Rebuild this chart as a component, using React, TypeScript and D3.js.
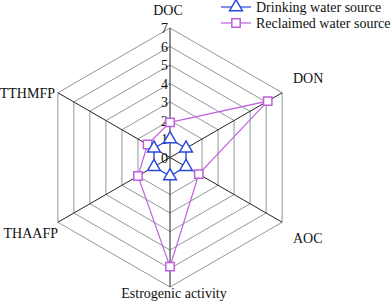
import React, { useEffect, useRef } from "react";
import * as d3 from "d3";

const axes = ["DOC", "DON", "AOC", "Estrogenic activity", "THAAFP", "TTHMFP"];
const drinking = [1, 1, 1, 1, 1, 1];
const reclaimed = [1.9, 6.1, 1.8, 5.9, 2.0, 1.4];
const ticks = [0, 1, 2, 3, 4, 5, 6, 7];

const App: React.FC = () => {
  const svgRef = useRef<SVGSVGElement | null>(null);

  useEffect(() => {
    if (!svgRef.current) return;
    const svg = d3.select(svgRef.current);
    svg.selectAll("*").remove();

    const cx = 170;
    const cy = 157.5;
    const r = d3.scaleLinear().domain([0, 7]).range([0, 129.5]);
    const angle = (i: number) => (i * Math.PI * 2) / axes.length;
    const pt = (i: number, v: number): [number, number] => [
      cx + r(v) * Math.sin(angle(i)),
      cy - r(v) * Math.cos(angle(i)),
    ];
    const font = "Liberation Serif, DejaVu Serif, serif";

    // rings
    ticks.slice(1).forEach((t) => {
      svg
        .append("polygon")
        .attr("points", axes.map((_, i) => pt(i, t).join(",")).join(" "))
        .attr("fill", "none")
        .attr("stroke", "#8c9a9a")
        .attr("stroke-width", 1);
    });

    // spokes
    axes.forEach((_, i) => {
      const [x, y] = pt(i, 7);
      svg
        .append("line")
        .attr("x1", cx)
        .attr("y1", cy)
        .attr("x2", x)
        .attr("y2", y)
        .attr("stroke", "#222")
        .attr("stroke-width", 1);
    });

    // tick labels
    svg
      .selectAll(".tick")
      .data(ticks)
      .enter()
      .append("text")
      .attr("x", cx - 2)
      .attr("y", (d) => cy - r(d) + 5)
      .attr("text-anchor", "end")
      .style("font-family", font)
      .style("font-size", "14px")
      .attr("fill", "#111")
      .text((d) => d);

    // axis labels
    const labelPos: { x: number; y: number; anchor: string }[] = [
      { x: 168, y: 15, anchor: "middle" },
      { x: 293, y: 83, anchor: "start" },
      { x: 293, y: 243, anchor: "start" },
      { x: 174, y: 298, anchor: "middle" },
      { x: 58, y: 238, anchor: "end" },
      { x: 55, y: 98, anchor: "end" },
    ];
    axes.forEach((a, i) => {
      svg
        .append("text")
        .attr("x", labelPos[i].x)
        .attr("y", labelPos[i].y)
        .attr("text-anchor", labelPos[i].anchor)
        .style("font-family", font)
        .style("font-size", "14px")
        .attr("fill", "#111")
        .text(a);
    });

    const line = d3
      .line<number>()
      .x((d, i) => pt(i, d)[0])
      .y((d, i) => pt(i, d)[1])
      .curve(d3.curveLinearClosed);

    const tri = d3.symbol().type(d3.symbolTriangle).size(70);
    const sq = d3.symbol().type(d3.symbolSquare).size(70);

    const series = [
      { values: reclaimed, color: "#c05ee0", sym: sq },
      { values: drinking, color: "#2a48e0", sym: tri },
    ];

    series.forEach((s) => {
      svg
        .append("path")
        .attr("d", line(s.values)!)
        .attr("fill", "none")
        .attr("stroke", s.color)
        .attr("stroke-width", 1.2);
      s.values.forEach((v, i) => {
        const [x, y] = pt(i, v);
        svg
          .append("path")
          .attr("d", s.sym()!)
          .attr("transform", `translate(${x},${y})`)
          .attr("fill", "white")
          .attr("stroke", s.color)
          .attr("stroke-width", 1.5);
      });
    });

    // legend
    const legend = [
      { name: "Drinking water source", color: "#2a48e0", sym: tri, y: 7 },
      { name: "Reclaimed water source", color: "#c05ee0", sym: sq, y: 23 },
    ];
    legend.forEach((l) => {
      svg
        .append("line")
        .attr("x1", 221)
        .attr("x2", 251)
        .attr("y1", l.y)
        .attr("y2", l.y)
        .attr("stroke", l.color)
        .attr("stroke-width", 1.2);
      svg
        .append("path")
        .attr("d", l.sym()!)
        .attr("transform", `translate(236,${l.y})`)
        .attr("fill", "white")
        .attr("stroke", l.color)
        .attr("stroke-width", 1.5);
      svg
        .append("text")
        .attr("x", 256)
        .attr("y", l.y + 5)
        .style("font-family", font)
        .style("font-size", "14px")
        .attr("fill", "#111")
        .text(l.name);
    });
  }, []);

  return (
    <svg
      ref={svgRef}
      width={392}
      height={304}
      style={{ position: "absolute", left: 0, top: 0, background: "white" }}
    ></svg>
  );
};

export default App;
